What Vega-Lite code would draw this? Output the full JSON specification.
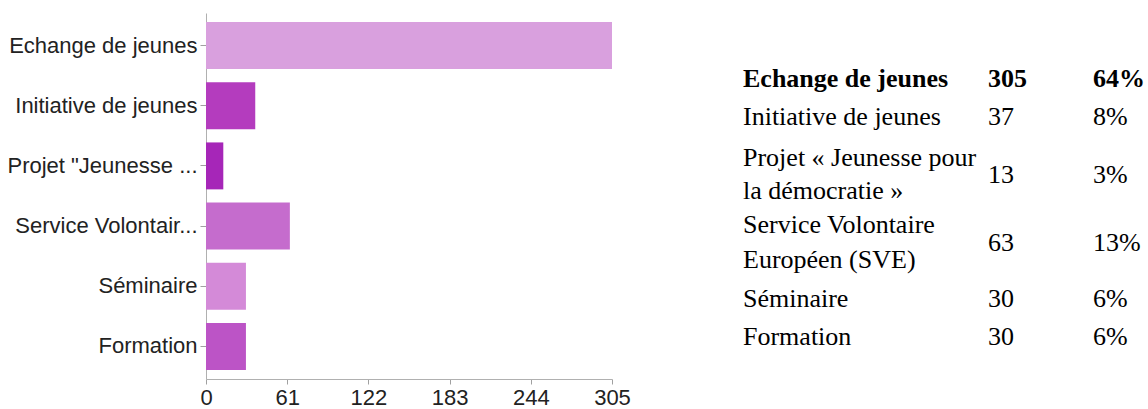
{
  "$schema": "https://vega.github.io/schema/vega-lite/v6.json",
  "padding": {"left": 6, "top": 13, "right": 0, "bottom": 0},
  "background": "white",
  "config": {"view": {"stroke": null}},
  "datasets": {
    "bars": [
      {"option": "Echange de jeunes", "count": 305},
      {"option": "Initiative de jeunes", "count": 37},
      {"option": "Projet \"Jeunesse ...", "count": 13},
      {"option": "Service Volontair...", "count": 63},
      {"option": "Séminaire", "count": 30},
      {"option": "Formation", "count": 30}
    ],
    "table": [
      {"row": 1, "col": "label", "line": "1", "text": "Echange de jeunes"},
      {"row": 1, "col": "count", "line": "1", "text": "305"},
      {"row": 1, "col": "pct", "line": "1", "text": "64%"},
      {"row": 2, "col": "label", "line": "1", "text": "Initiative de jeunes"},
      {"row": 2, "col": "count", "line": "1", "text": "37"},
      {"row": 2, "col": "pct", "line": "1", "text": "8%"},
      {"row": 3, "col": "label", "line": "1", "text": "Projet « Jeunesse pour"},
      {"row": 3, "col": "label", "line": "2", "text": "la démocratie »"},
      {"row": 3, "col": "count", "line": "mid", "text": "13"},
      {"row": 3, "col": "pct", "line": "mid", "text": "3%"},
      {"row": 4, "col": "label", "line": "1", "text": "Service Volontaire"},
      {"row": 4, "col": "label", "line": "2", "text": "Européen (SVE)"},
      {"row": 4, "col": "count", "line": "mid", "text": "63"},
      {"row": 4, "col": "pct", "line": "mid", "text": "13%"},
      {"row": 5, "col": "label", "line": "1", "text": "Séminaire"},
      {"row": 5, "col": "count", "line": "1", "text": "30"},
      {"row": 5, "col": "pct", "line": "1", "text": "6%"},
      {"row": 6, "col": "label", "line": "1", "text": "Formation"},
      {"row": 6, "col": "count", "line": "1", "text": "30"},
      {"row": 6, "col": "pct", "line": "1", "text": "6%"}
    ]
  },
  "hconcat": [
    {
      "width": 406,
      "height": 366,
      "data": {"name": "bars"},
      "mark": {"type": "bar"},
      "encoding": {
        "y": {
          "field": "option", "type": "nominal", "sort": null,
          "scale": {"paddingInner": 0.22, "paddingOuter": 0.15},
          "axis": {"title": null, "labelFont": "Liberation Sans", "labelFontSize": 22, "labelColor": "#222",
                   "tickColor": "#a0a0a0", "domainColor": "#b0b0b0", "tickSize": 6, "labelPadding": 3,
                   "minExtent": 200, "maxExtent": 200, "labelLimit": 0}
        },
        "x": {
          "field": "count", "type": "quantitative",
          "scale": {"domain": [0, 305], "nice": false},
          "axis": {"title": null, "values": [0, 61, 122, 183, 244, 305], "grid": false, "labelFlush": false,
                   "labelFont": "Liberation Sans", "labelFontSize": 22, "labelColor": "#222",
                   "tickColor": "#a0a0a0", "domainColor": "#b0b0b0", "tickSize": 5, "labelPadding": 3}
        },
        "color": {
          "field": "option", "type": "nominal", "legend": null,
          "scale": {
            "domain": ["Echange de jeunes", "Initiative de jeunes", "Projet \"Jeunesse ...", "Service Volontair...", "Séminaire", "Formation"],
            "range": ["#d9a0de", "#b43cbe", "#a626b8", "#c56ccd", "#d48ad8", "#bc54c6"]
          }
        }
      }
    },
    {
      "spacing": 0,
      "vconcat": [
        {
          "width": 350, "height": 22,
          "data": {"name": "table"},
          "transform": [{"filter": "datum.row == 1"}],
          "mark": {"type": "text", "align": "left", "baseline": "middle", "font": "Liberation Serif", "fontSize": 26, "fontWeight": "bold", "color": "#000"},
          "encoding": {
            "x": {"field": "col", "type": "nominal", "axis": null, "scale": {"type": "point", "padding": 0, "domain": ["label", "s1", "s2", "s3", "s4", "s5", "s6", "count", "s8", "s9", "pct"]}},
            "y": {"field": "line", "type": "nominal", "axis": null, "scale": {"type": "point", "domain": ["1"]}},
            "text": {"field": "text"}
          }
        },
        {
          "width": 350, "height": 50,
          "data": {"name": "table"},
          "transform": [{"filter": "datum.row == 2"}],
          "mark": {"type": "text", "align": "left", "baseline": "middle", "font": "Liberation Serif", "fontSize": 26, "color": "#000"},
          "encoding": {
            "x": {"field": "col", "type": "nominal", "axis": null, "scale": {"type": "point", "padding": 0, "domain": ["label", "s1", "s2", "s3", "s4", "s5", "s6", "count", "s8", "s9", "pct"]}},
            "y": {"field": "line", "type": "nominal", "axis": null, "scale": {"type": "point", "domain": ["1"]}},
            "text": {"field": "text"}
          }
        },
        {
          "width": 350, "height": 66,
          "data": {"name": "table"},
          "transform": [{"filter": "datum.row == 3"}],
          "mark": {"type": "text", "align": "left", "baseline": "middle", "font": "Liberation Serif", "fontSize": 26, "color": "#000"},
          "encoding": {
            "x": {"field": "col", "type": "nominal", "axis": null, "scale": {"type": "point", "padding": 0, "domain": ["label", "s1", "s2", "s3", "s4", "s5", "s6", "count", "s8", "s9", "pct"]}},
            "y": {"field": "line", "type": "nominal", "axis": null, "scale": {"type": "point", "domain": ["1", "mid", "2"], "padding": 1.36}},
            "text": {"field": "text"}
          }
        },
        {
          "width": 350, "height": 70,
          "data": {"name": "table"},
          "transform": [{"filter": "datum.row == 4"}],
          "mark": {"type": "text", "align": "left", "baseline": "middle", "font": "Liberation Serif", "fontSize": 26, "color": "#000"},
          "encoding": {
            "x": {"field": "col", "type": "nominal", "axis": null, "scale": {"type": "point", "padding": 0, "domain": ["label", "s1", "s2", "s3", "s4", "s5", "s6", "count", "s8", "s9", "pct"]}},
            "y": {"field": "line", "type": "nominal", "axis": null, "scale": {"type": "point", "domain": ["1", "mid", "2"], "padding": 1.5}},
            "text": {"field": "text"}
          }
        },
        {
          "width": 350, "height": 42,
          "data": {"name": "table"},
          "transform": [{"filter": "datum.row == 5"}],
          "mark": {"type": "text", "align": "left", "baseline": "middle", "font": "Liberation Serif", "fontSize": 26, "color": "#000"},
          "encoding": {
            "x": {"field": "col", "type": "nominal", "axis": null, "scale": {"type": "point", "padding": 0, "domain": ["label", "s1", "s2", "s3", "s4", "s5", "s6", "count", "s8", "s9", "pct"]}},
            "y": {"field": "line", "type": "nominal", "axis": null, "scale": {"type": "point", "domain": ["1"]}},
            "text": {"field": "text"}
          }
        },
        {
          "width": 350, "height": 34,
          "data": {"name": "table"},
          "transform": [{"filter": "datum.row == 6"}],
          "mark": {"type": "text", "align": "left", "baseline": "middle", "font": "Liberation Serif", "fontSize": 26, "color": "#000"},
          "encoding": {
            "x": {"field": "col", "type": "nominal", "axis": null, "scale": {"type": "point", "padding": 0, "domain": ["label", "s1", "s2", "s3", "s4", "s5", "s6", "count", "s8", "s9", "pct"]}},
            "y": {"field": "line", "type": "nominal", "axis": null, "scale": {"type": "point", "domain": ["1"]}},
            "text": {"field": "text"}
          }
        }
      ]
    }
  ],
  "spacing": 112,
  "center": true
}
